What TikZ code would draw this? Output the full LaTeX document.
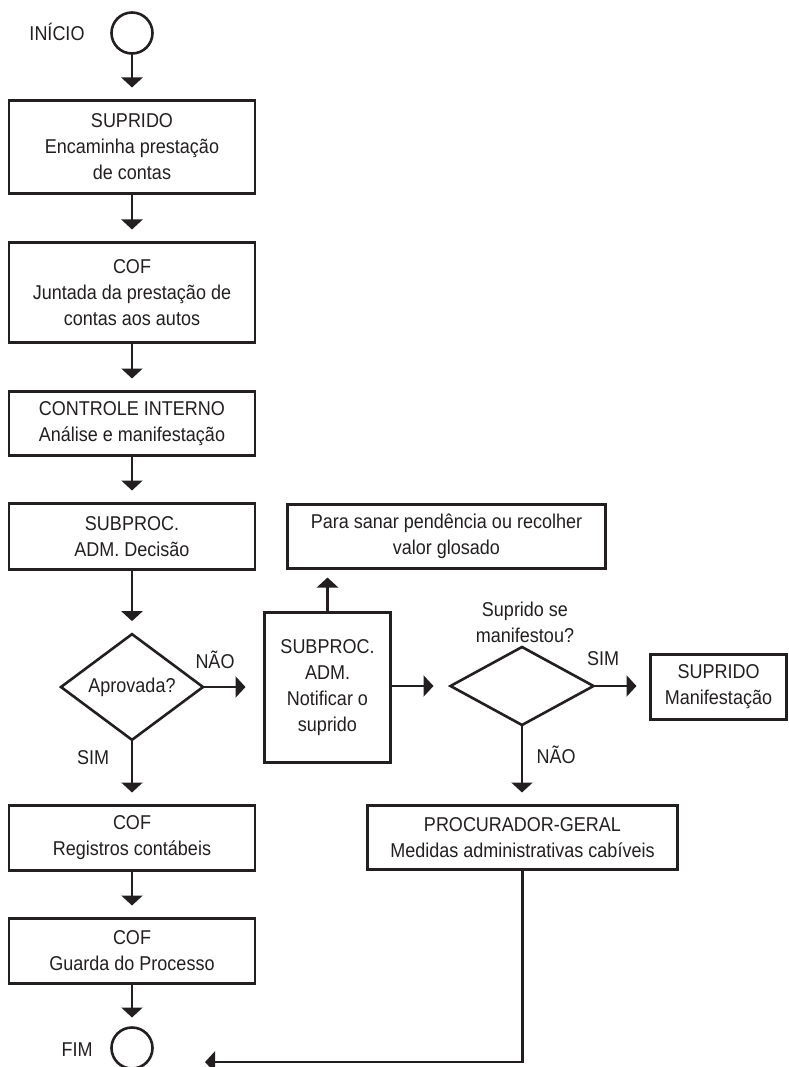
\documentclass[tikz,border=0pt]{standalone}
\usepackage{fontspec}
\setmainfont{Liberation Sans}[FakeStretch=0.9]
\usetikzlibrary{arrows.meta,shapes.geometric}
\definecolor{ink}{RGB}{35,31,32}
\begin{document}
\begin{tikzpicture}[x=1pt,y=-1pt,
  every node/.style={font=\fontsize{20}{26}\selectfont, text=ink},
  box/.style={draw=ink, line width=2.6pt, rectangle, align=center, inner sep=0pt, outer sep=0pt},
  decision/.style={draw=ink, line width=2.6pt, diamond, inner sep=0pt, outer sep=0pt},
  terminal/.style={draw=ink, line width=2.6pt, circle, inner sep=0pt, outer sep=0pt, minimum size=41pt},
  flow/.style={draw=ink, line width=2.6pt, -{Triangle[length=10pt,width=21pt]}, shorten >=13pt},
  tag/.style={inner sep=0pt, align=center}
]
\useasboundingbox (0,0) rectangle (788,1067);

% main column
\node[terminal] (start) at (132,33) {};
\node[tag] (startlbl) at (57,32) {INÍCIO};
\node[box, minimum width=246pt, minimum height=93pt] (b1) at (132,147)
  {SUPRIDO\\Encaminha prestação\\de contas};
\node[box, minimum width=246pt, minimum height=100pt] (b2) at (132,292.5)
  {COF\\Juntada da prestação de\\contas aos autos};
\node[box, minimum width=246pt, minimum height=64pt] (b3) at (132,423.5)
  {CONTROLE INTERNO\\Análise e manifestação};
\node[box, minimum width=246pt, minimum height=66pt] (b4) at (132,536.5)
  {SUBPROC.\\ADM. Decisão};
\node[decision, minimum width=142pt, minimum height=101pt] (d1) at (132,687) {Aprovada?};
\node[box, minimum width=246pt, minimum height=65pt] (reg) at (132,838)
  {COF\\Registros contábeis};
\node[box, minimum width=246pt, minimum height=65pt] (guarda) at (132,951)
  {COF\\Guarda do Processo};
\node[terminal] (fim) at (132,1048) {};
\node[tag] (fimlbl) at (77,1050) {FIM};

% notification branch
\node[box, minimum width=126pt, minimum height=150pt] (notif) at (327.5,687.5)
  {SUBPROC.\\ADM.\\Notificar o\\suprido};
\node[box, minimum width=318pt, minimum height=64pt] (sanar) at (446.5,536.5)
  {Para sanar pendência ou recolher\\valor glosado};
\node[decision, minimum width=143pt, minimum height=78pt] (d2) at (522,686) {};
\node[tag] (d2lbl) at (525,622) {Suprido se\\manifestou?};
\node[box, minimum width=136pt, minimum height=65pt] (supm) at (718.5,687)
  {SUPRIDO\\Manifestação};
\node[box, minimum width=310pt, minimum height=64pt] (proc) at (522.5,837.5)
  {PROCURADOR-GERAL\\Medidas administrativas cabíveis};
\coordinate (endtip) at (205,1062);

% branch labels
\node[tag] (nao1) at (215,660) {NÃO};
\node[tag] (sim1) at (93,758) {SIM};
\node[tag] (sim2) at (603,659) {SIM};
\node[tag] (nao2) at (556,755) {NÃO};

% connectors
\draw[flow] (start) -- (b1);
\draw[flow] (b1) -- (b2);
\draw[flow] (b2) -- (b3);
\draw[flow] (b3) -- (b4);
\draw[flow] (b4) -- (d1);
\draw[flow] (d1) -- (reg);
\draw[flow] (reg) -- (guarda);
\draw[flow, shorten >=10pt] (guarda) -- (fim);
\draw[flow, shorten >=19pt] (d1.east) -- (d1.east -| notif.west);
\draw[flow, shorten >=9pt] (notif.north) -- (notif.north |- sanar.south);
\draw[flow, shorten >=17pt] (notif.east |- d2.west) -- (d2.west);
\draw[flow, shorten >=14pt] (d2.east) -- (d2.east -| supm.west);
\draw[flow] (d2.south) -- (d2.south |- proc.north);
\draw[flow, shorten >=0pt] (proc.south) |- (endtip);
\end{tikzpicture}
\end{document}
